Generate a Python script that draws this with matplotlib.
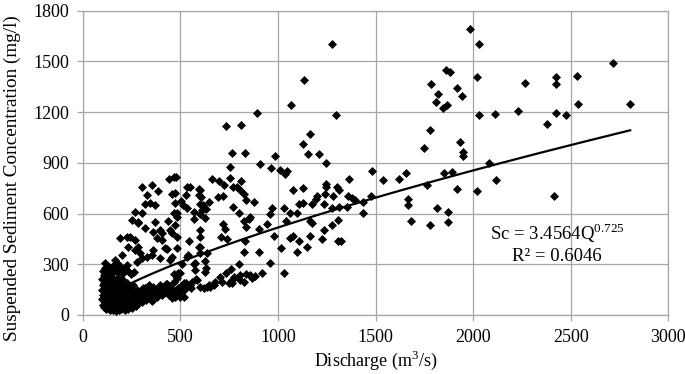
import numpy as np
import matplotlib.pyplot as plt

# discharge (m3/s) and suspended sediment concentration (mg/l)
# dense low-flow cluster
q_blob = [96, 98, 100, 101, 103, 104, 106, 107, 108, 110, 111, 113, 114, 116, 117, 119, 120, 121, 123, 124,
          126, 127, 129, 130, 131, 133, 134, 136, 137, 139, 140, 142, 143, 145, 146, 148, 149, 151, 152, 154,
          155, 157, 158, 160, 161, 163, 164, 166, 167, 169, 170, 172, 173, 175, 176, 178, 179, 181, 182, 184,
          185, 187, 188, 190, 191, 193, 194, 196, 197, 199, 200, 202, 203, 205, 207, 208, 210, 212, 213, 215,
          217, 218, 220, 222, 224, 225, 227, 229, 231, 233, 235, 237, 239, 241, 243, 245, 248, 250, 253, 255,
          258, 261, 264, 267, 270, 273, 277, 281, 285, 290]
c_blob = [150, 95, 210, 60, 175, 120, 235, 80, 190, 140, 45, 215, 105, 165, 70, 245, 130, 35, 195, 90,
          155, 55, 225, 115, 180, 40, 75, 205, 140, 100, 30, 170, 60, 230, 125, 85, 190, 45, 150, 110,
          215, 30, 70, 175, 135, 95, 50, 200, 155, 25, 120, 80, 185, 40, 140, 100, 220, 60, 165, 30,
          125, 85, 195, 45, 150, 105, 65, 175, 35, 130, 90, 210, 55, 155, 115, 40, 180, 75, 135, 30,
          100, 160, 60, 120, 45, 190, 85, 140, 35, 105, 65, 165, 125, 50, 90, 145, 70, 115, 40, 175,
          95, 60, 135, 80, 110, 55, 150, 90, 70, 120]

# lower band running right of the cluster
q_band = [105, 112, 120, 128, 135, 142, 150, 158, 165, 172, 180, 188, 195, 205, 215, 230, 245, 260,
          295, 300, 305, 310, 315, 320, 325, 330, 337, 340, 345, 350, 355, 362, 368, 375, 380, 388,
          395, 400, 405, 412, 420, 425, 431, 431, 440, 445, 452, 457, 465, 470, 474, 482, 488, 495,
          499, 510, 520, 530, 540, 555, 560, 474, 504, 516, 521, 549, 580, 602, 619, 636, 645, 653,
          670, 679, 705, 715, 735, 747, 763, 768, 773, 807, 807, 824, 835, 859, 867, 883, 920]
c_band = [262, 280, 255, 290, 270, 250, 285, 262, 300, 275, 250, 290, 268, 250, 280, 262, 240, 255,
          95, 130, 75, 160, 110, 157, 90, 140, 118, 175, 100, 150, 85, 167, 125, 145, 105, 128,
          177, 150, 115, 160, 135, 185, 137, 181, 120, 165, 150, 98, 197, 140, 108, 217, 160, 130,
          108, 175, 150, 190, 170, 160, 195, 137, 147, 187, 108, 177, 211, 167, 157, 167, 177, 163,
          177, 197, 226, 193, 246, 191, 186, 211, 223, 236, 207, 197, 242, 234, 217, 230, 246]

# scatter above the cluster, Q below 1000
q_mid = [465, 444, 302, 354, 383, 328, 456, 533, 345, 371, 320, 474, 268, 302, 251, 285, 371, 439, 465, 320,
         359, 397, 448, 380, 405, 191, 242, 431, 482, 234, 200, 268, 294, 328, 362, 397, 448, 533, 593, 114,
         174, 225, 277, 576, 465, 499, 585, 165, 302, 354, 422, 457, 285, 474, 457, 405, 225, 268, 285,
         895, 732, 813, 765, 831, 986, 908, 754, 965, 664, 700, 756, 724, 768, 813, 790, 804, 826, 838, 878,
         602, 605, 694, 716, 645, 616, 771, 968, 631, 602, 626, 799, 859, 824, 837, 854, 958, 944, 720, 729,
         602, 602, 708, 739, 905, 979, 829, 602, 602, 903, 826, 961, 799, 760, 626, 631, 626,
         480, 549, 593, 528, 597, 474, 501, 515, 532, 602, 611, 568, 571, 482, 482,
         482, 542, 539, 568, 636, 508, 490, 576]
c_mid = [815, 803, 755, 769, 735, 710, 716, 759, 661, 651, 657, 661, 611, 605, 562, 552, 552, 558, 601, 513,
         493, 503, 503, 453, 443, 453, 459, 388, 394, 404, 355, 384, 365, 345, 384, 335, 325, 345, 404, 305,
         305, 296, 315, 305, 242, 250, 207, 325, 335, 355, 394, 345, 542, 532, 483, 483, 463, 443, 404,
         1197, 1117, 1124, 957, 957, 943, 895, 874, 868, 805, 793, 812, 767, 757, 791, 755, 739, 716, 680, 670,
         739, 700, 700, 704, 670, 651, 639, 631, 629, 597, 572, 602, 581, 558, 519, 566, 599, 538, 538, 509,
         503, 463, 459, 448, 507, 467, 436, 404, 365, 374, 371, 309, 301, 270, 319, 279, 256,
         815, 755, 744, 708, 712, 720, 673, 651, 631, 657, 621, 611, 566, 605, 578,
         463, 439, 355, 301, 365, 301, 246, 266]

# high flows, Q above 1000
q_high = [1985, 2031, 1859, 1882, 2019, 1783, 1917, 2268, 1818, 1941, 1811, 1864, 1847, 2031, 2110, 2232,
          2381, 1777, 1749, 1931, 1946, 1948, 2080, 1657, 1852, 1891, 1763, 2117, 1915, 2019, 1664, 1664,
          1814, 1872, 1681, 1778, 1872, 2718, 2424, 2427, 2533, 2537, 2805, 2424, 2475, 2413,
          1278, 1131, 1066, 1297, 1163, 1129, 1153, 1211, 1244, 1009, 1035, 1047, 1484, 1538, 1622, 1362,
          1078, 1129, 1244, 1244, 1304, 1311, 1201, 1193, 1239, 1280, 1360, 1377, 1394, 1434, 1479, 1176,
          1129, 1107, 1235, 1278, 1314, 1352, 1434, 1030, 1061, 1095, 1039, 1162, 1176, 1309, 1064, 1076,
          1107, 1163, 1235, 1275, 1227, 1306, 1321, 1013, 1095, 1150, 1030]
c_high = [1691, 1602, 1450, 1438, 1407, 1367, 1343, 1375, 1308, 1296, 1262, 1241, 1223, 1182, 1190, 1209,
          1130, 1095, 988, 1022, 965, 941, 901, 842, 838, 846, 771, 799, 744, 735, 684, 652,
          633, 609, 558, 534, 552, 1490, 1407, 1367, 1414, 1249, 1247, 1194, 1184, 706,
          1604, 1391, 1243, 1180, 1073, 1012, 951, 953, 901, 858, 834, 852, 854, 797, 806, 803,
          741, 753, 773, 755, 755, 741, 702, 684, 714, 704, 704, 694, 680, 670, 704, 658,
          664, 657, 655, 633, 639, 637, 601, 631, 605, 605, 556, 558, 546, 562, 453, 469,
          436, 469, 503, 530, 451, 438, 438, 394, 371, 404, 250]

# power trendline shown on the chart
coef_a = 3.4564
coef_b = 0.725

plt.rcParams['font.family'] = ['Liberation Serif', 'DejaVu Serif']
plt.rcParams['mathtext.fontset'] = 'custom'
plt.rcParams['mathtext.rm'] = 'Liberation Serif'

fig = plt.figure(figsize=(6.85, 3.74), dpi=100)
ax = fig.add_axes([0.1209, 0.158, 0.8547, 0.8134])

q_all = np.array(q_blob + q_band + q_mid + q_high, dtype=float)
c_all = np.array(c_blob + c_band + c_mid + c_high, dtype=float)
ax.scatter(q_all, c_all, marker='D', s=21, color='black', linewidths=0, zorder=3)

qq = np.linspace(q_all.min(), q_all.max(), 300)
ax.plot(qq, coef_a * qq ** coef_b, color='black', lw=1.6, zorder=4)

ax.set_xlim(0, 3000)
ax.set_ylim(0, 1800)
ax.set_xticks(np.arange(0, 3001, 500))
ax.set_yticks(np.arange(0, 1801, 300))
ax.grid(True, color='#a6a6a6', lw=0.9)
ax.set_axisbelow(True)
for s in ax.spines.values():
    s.set_color('#a6a6a6')
    s.set_linewidth(0.9)
ax.tick_params(colors='#a6a6a6', length=4, width=0.9, labelcolor='black', labelsize=13)
ax.tick_params(axis='y', pad=6)
ax.tick_params(axis='x', pad=6)

ax.set_xlabel('Discharge (m$^{\\mathregular{3}}$/s)', fontsize=13)
ax.xaxis.set_label_coords(0.5, -0.11)
ax.set_ylabel('Suspended Sediment Concentration (mg/l)', fontsize=13.8, va='center')
ax.yaxis.set_label_coords(-0.121, 0.45)

ax.text(2430, 485, 'Sc = 3.4564Q$^{\\mathregular{0.725}}$', ha='center', va='center', fontsize=13.5)
ax.text(2430, 343, 'R\u00b2 = 0.6046', ha='center', va='center', fontsize=13.5)

fig.savefig('out.png', dpi=100)
